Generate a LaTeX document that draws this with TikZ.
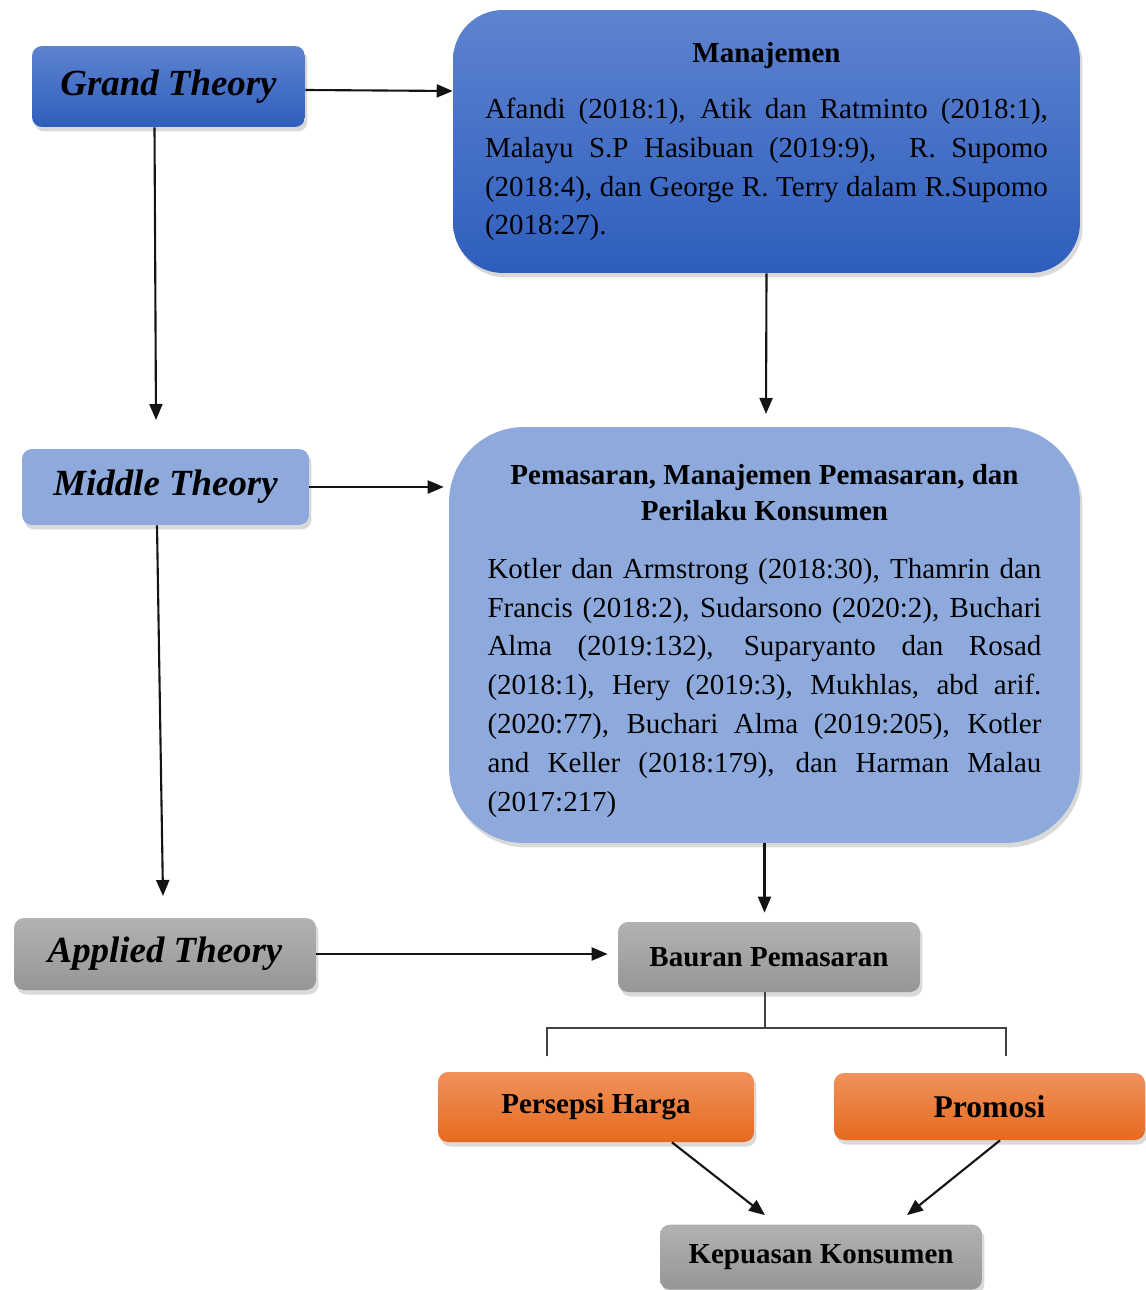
\documentclass[tikz,border=0pt]{standalone}
\usepackage{fontspec}
\setmainfont{Liberation Serif}
\usepackage{xcolor}
\usepackage{tikz}
\usetikzlibrary{arrows.meta, positioning, calc, shadows}
\definecolor{bluetop}{RGB}{94,131,208}
\definecolor{bluebot}{RGB}{46,94,189}
\definecolor{lightblue}{RGB}{142,170,220}
\definecolor{greytop}{RGB}{178,178,178}
\definecolor{greybot}{RGB}{150,150,150}
\definecolor{orangetop}{RGB}{240,146,92}
\definecolor{orangebot}{RGB}{230,106,30}
\definecolor{mydark}{RGB}{20,20,20}
\tikzset{
  tbox/.style={rectangle, rounded corners=0.2cm, inner sep=0pt,
    drop shadow={shadow xshift=0.05cm, shadow yshift=-0.09cm, opacity=0.3}},
  theory/.style={tbox, font=\fontsize{21}{25}\selectfont\bfseries\itshape},
  small/.style={tbox, font=\fontsize{16.5}{20}\selectfont\bfseries},
  bluebox/.style={top color=bluetop, bottom color=bluebot},
  lightbox/.style={fill=lightblue},
  greybox/.style={top color=greytop, bottom color=greybot},
  orangebox/.style={top color=orangetop, bottom color=orangebot},
  bigbox/.style={tbox, align=justify, font=\fontsize{16.5}{22.1}\selectfont},
  arrow/.style={-{Triangle[length=0.32cm, width=0.26cm]}, line width=1.2pt, color=mydark},
  line/.style={line width=0.6pt, color=mydark!80}
}

\begin{document}
\begin{tikzpicture}[x=0.02cm, y=-0.02cm]
  \useasboundingbox (0,0) rectangle (1145,1290);

  % Theory levels
  \node[theory, bluebox, minimum width=5.46cm, minimum height=1.62cm] (grand) at (168.5,86.5) {Grand Theory};
  \node[theory, lightbox, minimum width=5.74cm, minimum height=1.52cm] (middle) at (165.5,487) {Middle Theory};
  \node[theory, greybox, minimum width=6.04cm, minimum height=1.44cm] (applied) at (165,954) {Applied Theory};

  % Manajemen
  \node[bigbox, bluebox, rounded corners=1cm, text width=11.26cm,
        minimum width=12.54cm, minimum height=5.26cm] (manaj) at (766.5,141.5)
    {\centerline{\bfseries Manajemen}\par\vspace{10pt}\noindent
     Afandi (2018:1), Atik dan Ratminto (2018:1),\linebreak
     Malayu S.P Hasibuan (2019:9), \ R. Supomo\linebreak
     (2018:4), dan George R. Terry dalam R.Supomo\linebreak
     (2018:27).};

  % Pemasaran
  \node[bigbox, lightbox, rounded corners=1.5cm, text width=11.08cm, text height=18pt,
        minimum width=12.62cm, minimum height=8.32cm] (pemas) at (764.5,635)
    {{\bfseries\fontsize{16.5}{20.4}\selectfont
      \centerline{Pemasaran, Manajemen Pemasaran, dan}
      \centerline{Perilaku Konsumen}\par}\vspace{11pt}\noindent
     Kotler dan Armstrong (2018:30), Thamrin dan\linebreak
     Francis (2018:2), Sudarsono (2020:2), Buchari\linebreak
     Alma (2019:132), Suparyanto dan Rosad\linebreak
     (2018:1), Hery (2019:3), Mukhlas, abd arif.\linebreak
     (2020:77), Buchari Alma (2019:205), Kotler\linebreak
     and Keller (2018:179), dan Harman Malau\linebreak
     (2017:217)};

  % Variables
  \node[small, greybox, minimum width=6.04cm, minimum height=1.4cm] (bauran) at (769,957) {Bauran Pemasaran};
  \node[small, orangebox, minimum width=6.32cm, minimum height=1.4cm] (persepsi) at (596,1107) {Persepsi Harga};
  \node[small, orangebox, minimum width=6.22cm, minimum height=1.34cm,
        font=\fontsize{18}{20}\selectfont\bfseries] (promosi) at (989.5,1106.5) {Promosi};
  \node[small, greybox, minimum width=6.44cm, minimum height=1.3cm] (kepuasan) at (821,1257) {Kepuasan Konsumen};

  % Free ends
  \coordinate (gEnd) at (156,420);
  \coordinate (mEnd) at (766,414);
  \coordinate (aEnd) at (163,896);
  \coordinate (brJ) at (765,1028);
  \coordinate (brL) at (547,1056);
  \coordinate (brR) at (1006,1056);

  % Arrows
  \draw[arrow] ([yshift=-0.07cm]grand.east) -- ([yshift=-0.09cm]grand.east -| manaj.west);
  \draw[arrow] ([xshift=-0.28cm]grand.south) -- (gEnd);
  \draw[arrow] (manaj.south) -- (mEnd);
  \draw[arrow, shorten >=0.1cm] (middle.east) -- (middle.east -| pemas.west);
  \draw[arrow] ([xshift=-0.17cm]middle.south) -- (aEnd);
  \draw[arrow, shorten >=0.18cm] (pemas.south) -- (pemas.south |- bauran.north);
  \draw[arrow, shorten >=0.2cm] (applied.east) -- (applied.east -| bauran.west);
  \draw[arrow] ([xshift=1.52cm]persepsi.south) -- ([xshift=-1.12cm, yshift=0.18cm]kepuasan.north);
  \draw[arrow] ([xshift=0.21cm]promosi.south) -- ([xshift=1.72cm, yshift=0.18cm]kepuasan.north);

  % Bracket
  \draw[line] (bauran.south -| brJ) -- (brJ);
  \draw[line] (brL) |- (brJ) -| (brR);
\end{tikzpicture}
\end{document}
